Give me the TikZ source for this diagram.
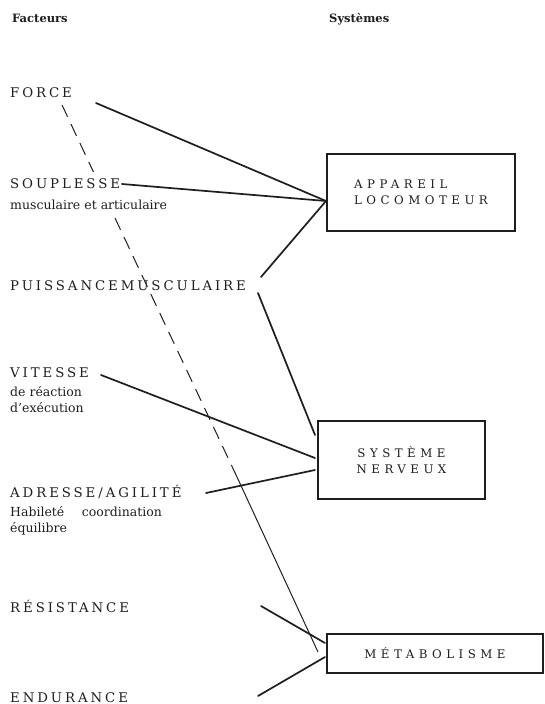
\documentclass[tikz,border=0pt]{standalone}
\usepackage{fontspec}
\setmainfont{DejaVu Serif}
\newfontfamily\factorfont[LetterSpace=22]{DejaVu Serif}
\newfontfamily\systemfont[LetterSpace=38]{DejaVu Serif}
\usepackage{tikz}
\usetikzlibrary{positioning}
\definecolor{ink}{RGB}{30,30,30}
\tikzset{
    heading/.style={anchor=base west, inner sep=0pt, font=\bfseries\fontsize{11.5}{13}\selectfont},
    factor/.style={anchor=base west, inner sep=0pt, font=\factorfont\fontsize{13.3}{14}\selectfont},
    detail/.style={anchor=base west, inner sep=0pt, align=left, font=\fontsize{12.5}{16}\selectfont},
    system/.style={rectangle, draw, line width=2pt, inner sep=0pt, align=center, font=\systemfont\fontsize{11.8}{16}\selectfont},
    link/.style={line width=1.7pt, line cap=round},
    trace/.style={line width=1pt}
}

\begin{document}
\begin{tikzpicture}[x=1pt, y={(0pt,-1pt)}, color=ink]
    \useasboundingbox (0,0) rectangle (545,704);

    % Column headings
    \node[heading] (facteurs) at (12,23) {Facteurs};
    \node[heading] (systemes) at (329,23) {Systèmes};

    % Factors on the left (multi-line notes sit on their last baseline)
    \node[factor] (force) at (10,97) {FORCE};
    \node[factor] (souplesse) at (10,188) {SOUPLESSE};
    \node[detail] (souplesse-d) at (10,209) {musculaire et articulaire};
    \node[factor] (puissance) at (10,290) {PUISSANCEMUSCULAIRE};
    \node[factor] (vitesse) at (10,377) {VITESSE};
    \node[detail] (vitesse-d) at (10,412) {de réaction\\d’exécution};
    \node[factor] (adresse) at (10,497) {ADRESSE/AGILITÉ};
    \node[detail] (adresse-d) at (10,532) {Habileté\hspace{1.4em}coordination\\équilibre};
    \node[factor] (resistance) at (10,612) {RÉSISTANCE};
    \node[factor] (endurance) at (10,702) {ENDURANCE};

    % Systems on the right
    \node[system, align=left, minimum width=188pt, minimum height=77pt] (loco) at (421,192.5) {APPAREIL\\LOCOMOTEUR};
    \node[system, minimum width=167pt, minimum height=78pt] (nerveux) at (401.5,460) {SYSTÈME\\NERVEUX};
    \node[system, minimum width=216pt, minimum height=39pt] (metabolisme) at (435,653.5) {MÉTABOLISME};

    % Free ends of the connectors
    \coordinate (force-out) at (96,103);
    \coordinate (souplesse-out) at (122,184);
    \coordinate (puissance-up) at (261,277);
    \coordinate (puissance-down) at (258,293);
    \coordinate (vitesse-out) at (101,375);
    \coordinate (adresse-out) at (206,493);
    \coordinate (resistance-out) at (261,606);
    \coordinate (endurance-out) at (258,696);
    \coordinate (dash-top) at (62,105);
    \coordinate (dash-gap1) at (93.5,172);
    \coordinate (dash-gap2) at (115,218);
    \coordinate (dash-end) at (237,477);

    % Factor to system links
    \draw[link] (force-out) -- ([yshift=-8.5pt]loco.west);
    \draw[link] (souplesse-out) -- ([yshift=-8.5pt]loco.west);
    \draw[link] (puissance-up) -- ([yshift=-8.5pt]loco.west);
    \draw[link] (puissance-down) -- ([xshift=-2pt,yshift=25pt]nerveux.west);
    \draw[link] (vitesse-out) -- ([xshift=-2pt,yshift=2pt]nerveux.west);
    \draw[link] (adresse-out) -- ([xshift=-2pt,yshift=-10pt]nerveux.west);
    \draw[link] (resistance-out) -- ([xshift=-1pt,yshift=10.5pt]metabolisme.west);
    \draw[link] (endurance-out) -- ([xshift=-1pt,yshift=-3.5pt]metabolisme.west);

    % Force also feeds the metabolism (dashed, broken at the souplesse text, then solid)
    \draw[trace, dash pattern=on 13pt off 8pt] (dash-top) -- (dash-gap1);
    \draw[trace, dash pattern=on 13pt off 8pt] (dash-gap2) -- (dash-end);
    \draw[trace] (dash-end) -- ([xshift=-8pt,yshift=1.5pt]metabolisme.west);

\end{tikzpicture}
\end{document}
